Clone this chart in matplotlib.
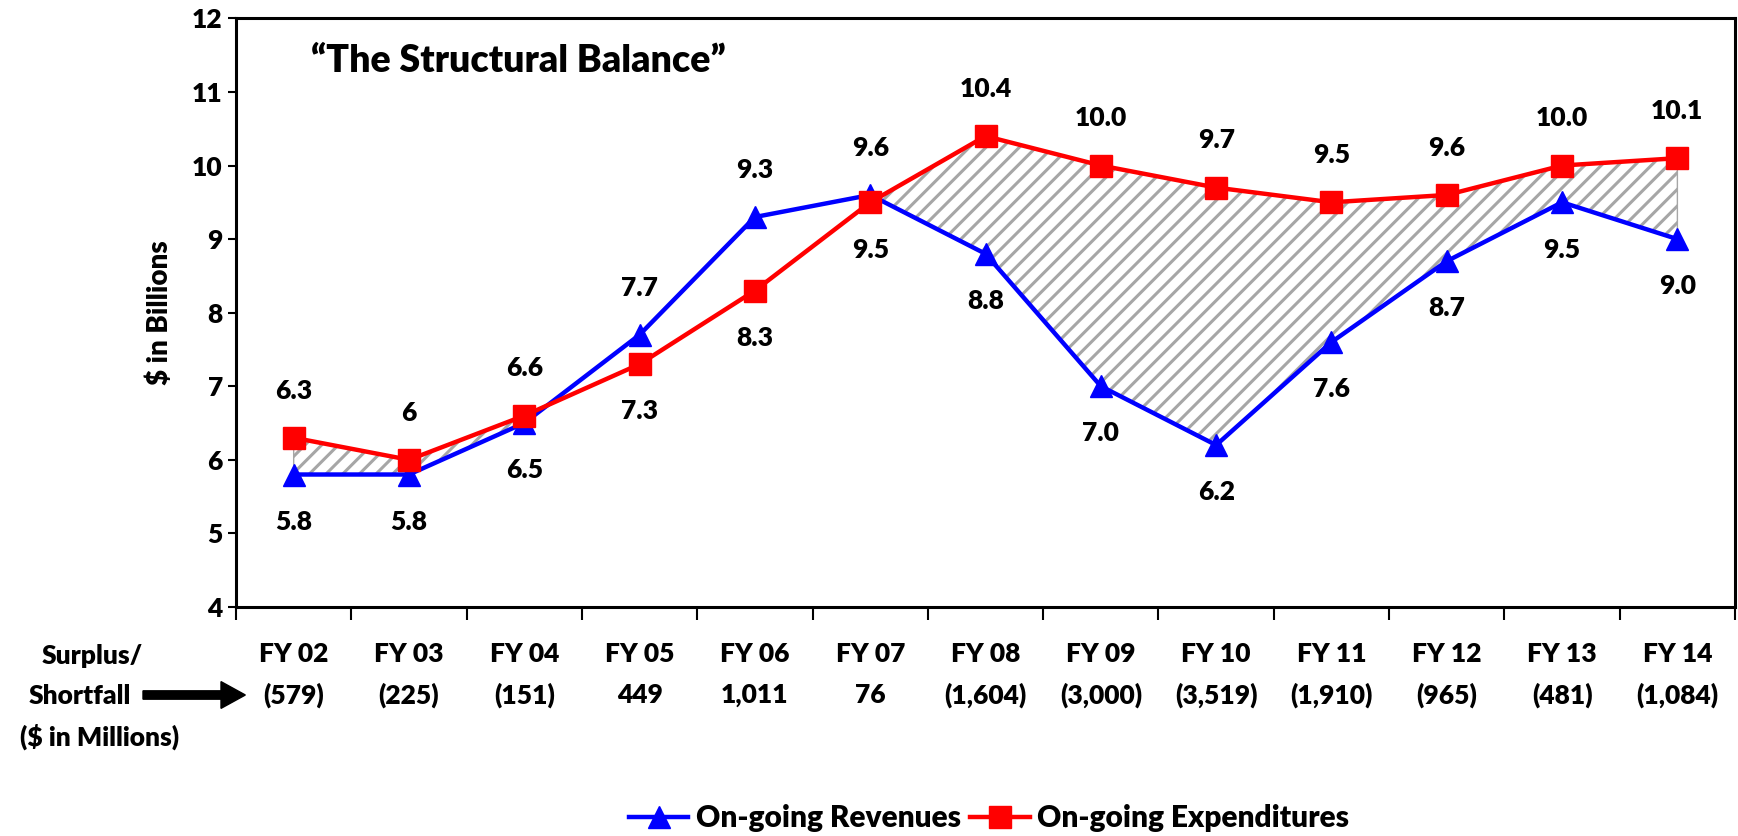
import numpy as np
import matplotlib
matplotlib.use("Agg")
import matplotlib.pyplot as plt
import matplotlib.patches as mpatches
import matplotlib.transforms as mtransforms

plt.rcParams['font.family'] = ['Lato', 'DejaVu Sans']
plt.rcParams['font.weight'] = 'heavy'
plt.rcParams['axes.labelweight'] = 'heavy'
plt.rcParams['hatch.linewidth'] = 2.2
plt.rcParams['hatch.color'] = '#a6a6a6'

# Dados
anos = ['FY 02', 'FY 03', 'FY 04', 'FY 05', 'FY 06', 'FY 07', 'FY 08',
        'FY 09', 'FY 10', 'FY 11', 'FY 12', 'FY 13', 'FY 14']
saldo = ['(579)', '(225)', '(151)', '449', '1,011', '76', '(1,604)',
         '(3,000)', '(3,519)', '(1,910)', '(965)', '(481)', '(1,084)']
receitas = [5.8, 5.8, 6.5, 7.7, 9.3, 9.6, 8.8, 7.0, 6.2, 7.6, 8.7, 9.5, 9.0]
despesas = [6.3, 6.0, 6.6, 7.3, 8.3, 9.5, 10.4, 10.0, 9.7, 9.5, 9.6, 10.0, 10.1]
rot_receitas = ['5.8', '5.8', '6.5', '7.7', '9.3', '9.6', '8.8', '7.0', '6.2',
                '7.6', '8.7', '9.5', '9.0']
rot_despesas = ['6.3', '6', '6.6', '7.3', '8.3', '9.5', '10.4', '10.0', '9.7',
                '9.5', '9.6', '10.0', '10.1']

FS = 19
x = np.arange(len(anos))
rec = np.array(receitas)
desp = np.array(despesas)

fig = plt.figure(figsize=(17.38, 8.36), dpi=100)
ax = fig.add_axes([0.1358, 0.274, 0.8625, 0.704])

# area hachurada (deficit estrutural)
ax.fill_between(x, rec, desp, where=desp >= rec, interpolate=True,
                facecolor='white', edgecolor='#a6a6a6', hatch='//',
                linewidth=1, zorder=1)

ax.plot(x, rec, color='#0000ff', linewidth=3.2, marker='^', markersize=16,
        label='On-going Revenues', zorder=3)
ax.plot(x, desp, color='#ff0000', linewidth=3.2, marker='s', markersize=16,
        label='On-going Expenditures', zorder=4)

# rotulos: o maior em cima, o menor embaixo
for i in range(len(x)):
    if rec[i] > desp[i]:
        off_r, off_d = 34, -34
    else:
        off_r, off_d = -34, 34
    ax.annotate(rot_receitas[i], (x[i], rec[i]), xytext=(0, off_r),
                textcoords='offset points', ha='center', va='center', fontsize=FS)
    ax.annotate(rot_despesas[i], (x[i], desp[i]), xytext=(0, off_d),
                textcoords='offset points', ha='center', va='center', fontsize=FS)

ax.set_xlim(-0.5, len(x) - 0.5)
ax.set_ylim(4, 12)
ax.set_yticks(range(4, 13))
ax.tick_params(axis='y', labelsize=FS, direction='out', length=6, width=1.5)
ax.set_xticks(np.arange(-0.5, len(x), 1.0))
ax.set_xticklabels([])
ax.tick_params(axis='x', direction='out', length=9, width=1.5)
for s in ax.spines.values():
    s.set_linewidth(2.2)

ax.set_ylabel('$ in Billions', fontsize=20, labelpad=14)
ax.text(0.05, 0.928, '\u201cThe Structural Balance\u201d', transform=ax.transAxes,
        fontsize=27, ha='left', va='center')

# tabela abaixo do eixo
trans = mtransforms.blended_transform_factory(ax.transData, fig.transFigure)
for i in range(len(x)):
    ax.text(x[i], 1 - 654 / 836, anos[i], transform=trans, ha='center',
            va='center', fontsize=FS)
    ax.text(x[i], 1 - 695 / 836, saldo[i], transform=trans, ha='center',
            va='center', fontsize=FS)

fig.text(92 / 1738, 1 - 656 / 836, 'Surplus/', ha='center', va='center', fontsize=FS)
fig.text(80 / 1738, 1 - 696 / 836, 'Shortfall', ha='center', va='center', fontsize=FS)
fig.text(100 / 1738, 1 - 737 / 836, '($ in Millions)', ha='center', va='center', fontsize=FS)
fig.patches.append(mpatches.FancyArrow(
    143 / 1738, 1 - 695 / 836, 78 / 1738, 0, width=0.01, head_width=0.032,
    head_length=0.014, length_includes_head=False, color='black',
    transform=fig.transFigure, figure=fig))

leg = fig.legend(loc='center', bbox_to_anchor=(0.569, 1 - 818 / 836), ncol=2,
                 frameon=False, fontsize=21.5, handlelength=2.0, columnspacing=0.3,
                 handletextpad=0.25)

fig.savefig('out.png', dpi=100)
